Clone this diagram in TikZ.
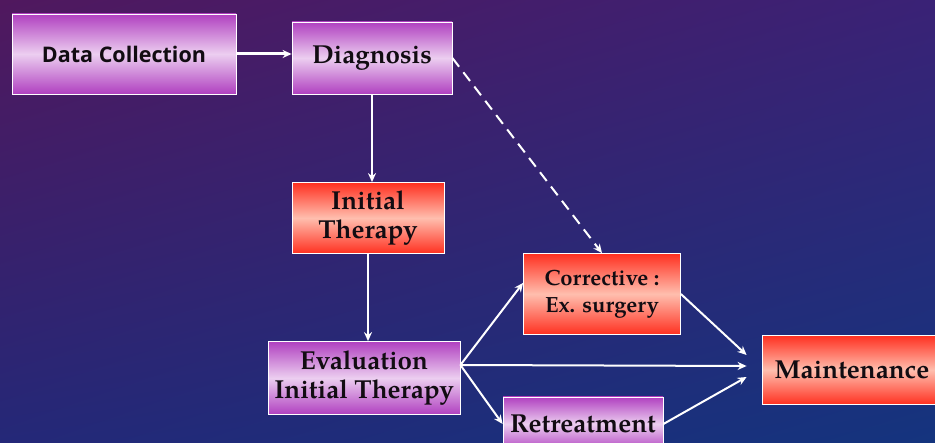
\documentclass[tikz,border=0pt]{standalone}
\usepackage{fontspec}
\newfontfamily\pagella{texgyrepagella}[Extension=.otf,UprightFont=*-regular,BoldFont=*-bold]
\newfontfamily\opensans{Open Sans}
\usetikzlibrary{arrows.meta, calc, positioning, shadings}

\definecolor{bgtl}{RGB}{80,24,94}
\definecolor{bgtr}{RGB}{58,34,118}
\definecolor{bgbl}{RGB}{36,40,120}
\definecolor{bgbr}{RGB}{20,52,126}
\definecolor{violetedge}{RGB}{176,64,192}
\definecolor{violetmid}{RGB}{236,206,240}
\definecolor{rededge}{RGB}{255,48,32}
\definecolor{redmid}{RGB}{255,190,174}
\definecolor{ink}{RGB}{18,12,18}

\begin{document}
\begin{tikzpicture}[x=1pt, y=-1pt, >={Stealth[length=9pt, width=8pt]}]
	\tikzstyle{stage} = [draw=white, line width=0.8pt, align=center, text=ink, font=\pagella\bfseries\fontsize{26}{29}\selectfont, inner sep=0pt]
	\tikzstyle{violet} = [stage, top color=violetedge, bottom color=violetedge, middle color=violetmid]
	\tikzstyle{reddish} = [stage, top color=rededge, bottom color=rededge, middle color=redmid]
	\tikzstyle{flow} = [->, white, line width=2pt]

	\clip (0,0) rectangle (935,443);
	\shade[upper left=bgtl, upper right=bgtr, lower left=bgbl, lower right=bgbr] (0,0) rectangle (935,443);

	\node[violet, minimum width=224, minimum height=80, font=\opensans\bfseries\fontsize{21.5}{24}\selectfont] (collect) at (124,54) {Data Collection};
	\node[violet, minimum width=160, minimum height=72] (diag) at (372,58) {Diagnosis};
	\node[reddish, minimum width=152, minimum height=71] (initial) at (368,218) {Initial\\Therapy};
	\node[violet, minimum width=192, minimum height=73] (eval) at (364,378) {Evaluation\\Initial Therapy};
	\node[reddish, minimum width=157, minimum height=81, font=\pagella\bfseries\fontsize{22}{27}\selectfont] (corr) at (602,294) {Corrective :\\Ex. surgery};
	\node[violet, minimum width=160, minimum height=54] (retr) at (583,424) {Retreatment};
	\node[reddish, minimum width=180, minimum height=69] (maint) at (852,370) {Maintenance};

	\coordinate (fork) at ($(eval.east)+(0,-13)$);
	\coordinate (mtop) at ($(maint.west)+(-15,-15)$);
	\coordinate (mmid) at ($(maint.west)+(-15,-4)$);
	\coordinate (mlow) at ($(maint.west)+(-15,7)$);

	\draw[flow, line width=3pt] (collect.east) -- (collect.east -| diag.west);
	\draw[flow] (diag.south) -- (diag.south |- initial.north);
	\draw[flow, dash pattern=on 11pt off 7pt] (diag.east) -- (corr.north);
	\draw[flow] (initial.south) -- (initial.south |- eval.north);
	\draw[flow] (fork) -- (corr.172);
	\draw[flow] (fork) -- (mmid);
	\draw[flow] (fork) -- (retr.west);
	\draw[flow] (corr.east) -- (mtop);
	\draw[flow] (retr.east) -- (mlow);
\end{tikzpicture}
\end{document}
